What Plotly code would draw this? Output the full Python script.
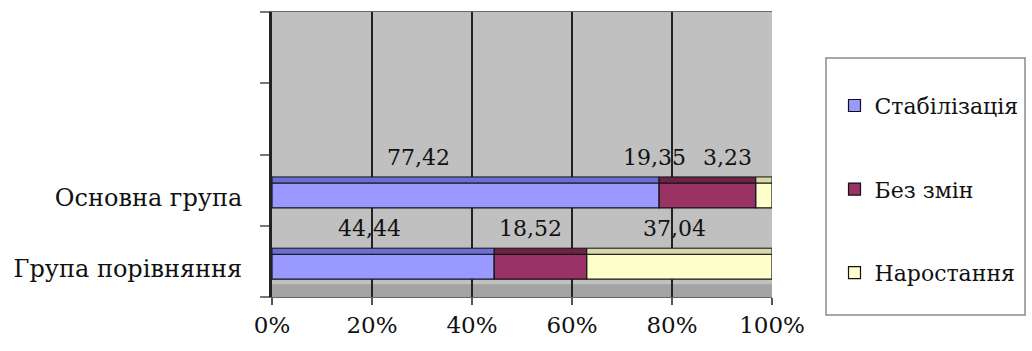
import plotly.graph_objects as go

# ---- data ----
categories = ["Основна група", "Група порівняння"]
cat_pos = [1, 0]
series_names = ["Стабілізація", "Без змін", "Наростання"]
stabilization = [77.42, 44.44]
no_change = [19.35, 18.52]
growth = [3.23, 37.04]
x_ticks = [0, 20, 40, 60, 80, 100]
x_tick_labels = ["0%", "20%", "40%", "60%", "80%", "100%"]

# ---- style ----
colors = ["#9999FF", "#993366", "#FFFFCC"]
top_colors = ["#6D6DD6", "#6A2448", "#D8D8A8"]
FONT = "DejaVu Serif"
# horizontal pixel nudges of value labels (per series, per category)
label_xshift = [[-47, -14], [-53, -10], [-36, -5]]

series = [stabilization, no_change, growth]

fig = go.Figure()
bases = [[0.0] * len(categories)]
for vals in series[:-1]:
    bases.append([b + v for b, v in zip(bases[-1], vals)])

for i, (name, vals) in enumerate(zip(series_names, series)):
    fig.add_trace(go.Bar(
        y=cat_pos, x=vals, base=bases[i], orientation="h", name=name,
        marker=dict(color=colors[i], line=dict(color="#111111", width=1.2)),
        width=0.35, offset=-0.25, legendgroup=name, showlegend=True,
        hoverinfo="skip",
    ))
    fig.add_trace(go.Bar(
        y=cat_pos, x=vals, base=bases[i], orientation="h", name=name,
        marker=dict(color=top_colors[i], line=dict(color="#111111", width=1)),
        width=0.085, offset=0.1, legendgroup=name, showlegend=False,
        hoverinfo="skip",
    ))

for i, vals in enumerate(series):
    for j, v in enumerate(vals):
        fig.add_annotation(
            x=bases[i][j] + v / 2, y=cat_pos[j] + 0.46,
            text=f"{v:.2f}".replace(".", ","), showarrow=False,
            xshift=label_xshift[i][j], yanchor="middle",
            font=dict(family=FONT, size=22, color="#111111"),
        )

fig.add_shape(type="rect", xref="x domain", yref="y domain",
              x0=0, x1=1, y0=0, y1=0.045, fillcolor="#A3A3A3",
              line=dict(width=0), layer="below")
fig.add_shape(type="rect", xref="paper", yref="paper",
              x0=1.108, x1=1.506, y0=-0.063, y1=0.839,
              fillcolor="rgba(0,0,0,0)", line=dict(color="#8a8a8a", width=1.5))

fig.update_layout(
    width=1032, height=351,
    margin=dict(l=272, r=260, t=12, b=54, autoexpand=False),
    paper_bgcolor="white", plot_bgcolor="#C0C0C0",
    barmode="overlay",
    font=dict(family=FONT, size=22, color="#111111"),
    showlegend=True,
    legend=dict(
        x=1.125, y=0.745, xanchor="left", yanchor="top",
        borderwidth=0, bgcolor="rgba(0,0,0,0)",
        font=dict(family=FONT, size=22, color="#111111"),
        traceorder="grouped", tracegroupgap=52,
        itemwidth=30,
    ),
    xaxis=dict(
        range=[0, 100], tickvals=x_ticks, ticktext=x_tick_labels,
        showgrid=True, gridcolor="#222222", gridwidth=2,
        ticks="outside", ticklen=7, tickcolor="#555555", tickwidth=1.5,
        showline=True, linecolor="#666666", linewidth=1, mirror=True,
        zeroline=False, automargin=False,
        tickfont=dict(family=FONT, size=23),
    ),
    yaxis=dict(
        range=[-0.5, 3.5], tickvals=[p - 0.1 for p in cat_pos],
        ticktext=categories, ticks="", showgrid=False, zeroline=False,
        showline=True, linecolor="#222222", linewidth=3,
        ticklabelstandoff=22, automargin=False,
        minor=dict(tickvals=[-0.5, 0.5, 1.5, 2.5, 3.5], ticks="outside",
                   ticklen=9, tickcolor="#777777", tickwidth=1.5),
        tickfont=dict(family=FONT, size=24),
    ),
)

fig.write_html("out.html")
